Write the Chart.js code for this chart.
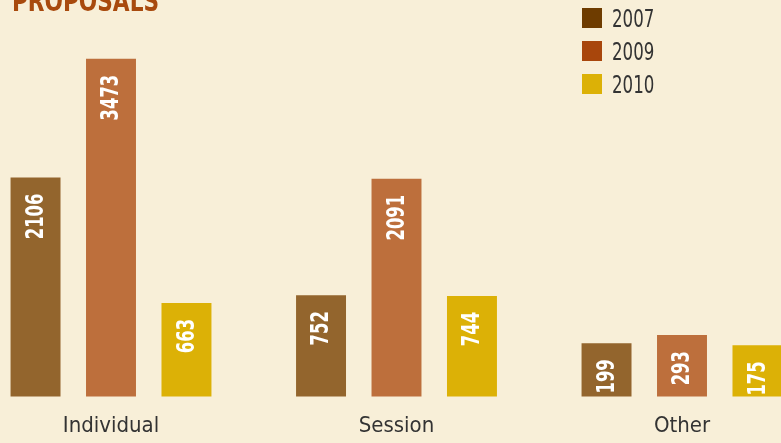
<!DOCTYPE html>
<html>
<head>
<meta charset="utf-8">
<title>Proposals</title>
<script src="https://cdn.jsdelivr.net/npm/chart.js@4"></script>
<style>
    html, body {
        margin: 0;
        padding: 0;
        background: #f8efd8;
        overflow: hidden;
    }
    #wrap {
        position: relative;
        width: 781px;
        height: 443px;
    }
    #title {
        position: absolute;
        left: 12px;
        top: -15px;
        margin: 0;
        font: bold 28px "DejaVu Sans Condensed", "Liberation Sans Narrow", sans-serif;
        color: #a84a0e;
        transform: scaleX(0.86);
        transform-origin: left top;
    }
    #legend {
        position: absolute;
        left: 582px;
        top: 8px;
        margin: 0;
        padding: 0;
        list-style: none;
    }
    #legend li {
        display: flex;
        align-items: center;
        height: 20px;
        margin-bottom: 13px;
        font: 25px "DejaVu Sans Condensed", "Liberation Sans Narrow", sans-serif;
        color: #333;
    }
    #legend .box {
        display: inline-block;
        width: 20px;
        height: 20px;
        margin-right: 10px;
    }
    #legend .txt {
        display: inline-block;
        transform: scaleX(0.74);
        transform-origin: left center;
    }
</style>
</head>
<body>
<div id="wrap">
    <h1 id="title">PROPOSALS</h1>
    <ul id="legend"></ul>
    <canvas id="proposalsChart" width="781" height="443"></canvas>
</div>
<script>
const categories = ["Individual", "Session", "Other"];
const years = ["2007", "2009", "2010"];
const values2007 = [2106, 752, 199];
const values2009 = [3473, 2091, 293];
const values2010 = [663, 744, 175];

const barColors = ["#93652d", "#bd6f3c", "#dcb106"];
const swatchColors = ["#6e3c00", "#a8460c", "#dcb106"];
const labelFont = 'bold 24px "DejaVu Sans Condensed", "Liberation Sans Narrow", sans-serif';

// white value labels, rotated, hanging just under the top of each bar
const barLabels = {
    id: 'barLabels',
    afterDatasetsDraw(chart) {
        const ctx = chart.ctx;
        ctx.save();
        ctx.font = labelFont;
        ctx.fillStyle = "#ffffff";
        ctx.textAlign = "right";
        ctx.textBaseline = "middle";
        chart.data.datasets.forEach((ds, i) => {
            chart.getDatasetMeta(i).data.forEach((bar, j) => {
                ctx.save();
                ctx.translate(bar.x, bar.y + 16);
                ctx.rotate(-Math.PI / 2);
                ctx.scale(0.76, 1); // squeeze digits to a narrow face
                ctx.fillText(String(ds.data[j]), 0, 1);
                ctx.restore();
            });
        });
        ctx.restore();
    }
};

const ctx = document.getElementById('proposalsChart').getContext('2d');
const proposalsChart = new Chart(ctx, {
    type: 'bar',
    data: {
        labels: categories,
        datasets: [
            { label: years[0], data: values2007, backgroundColor: barColors[0] },
            { label: years[1], data: values2009, backgroundColor: barColors[1] },
            { label: years[2], data: values2010, backgroundColor: barColors[2] }
        ]
    },
    options: {
        responsive: false,
        animation: false,
        layout: { padding: { left: 111, right: 99, top: 13, bottom: -12 } },
        datasets: {
            bar: {
                base: -415,
                clip: false,
                categoryPercentage: 0.793,
                barPercentage: 0.662
            }
        },
        scales: {
            x: {
                offset: false,
                grid: { display: false, drawTicks: false },
                border: { display: false },
                ticks: {
                    padding: 16,
                    color: "#333",
                    font: { family: '"DejaVu Sans Condensed", "Liberation Sans Narrow", sans-serif', size: 22 }
                }
            },
            y: {
                display: false,
                min: -415,
                max: 4000
            }
        },
        plugins: {
            legend: { display: false },
            tooltip: { enabled: false }
        }
    },
    plugins: [barLabels]
});

// legend list on the top right
const legendList = document.getElementById("legend");
years.forEach((year, i) => {
    let item = document.createElement("li");
    let box = document.createElement("span");
    box.className = "box";
    box.style.background = swatchColors[i];
    let txt = document.createElement("span");
    txt.className = "txt";
    txt.textContent = year;
    item.appendChild(box);
    item.appendChild(txt);
    legendList.appendChild(item);
});
</script>
</body>
</html>
